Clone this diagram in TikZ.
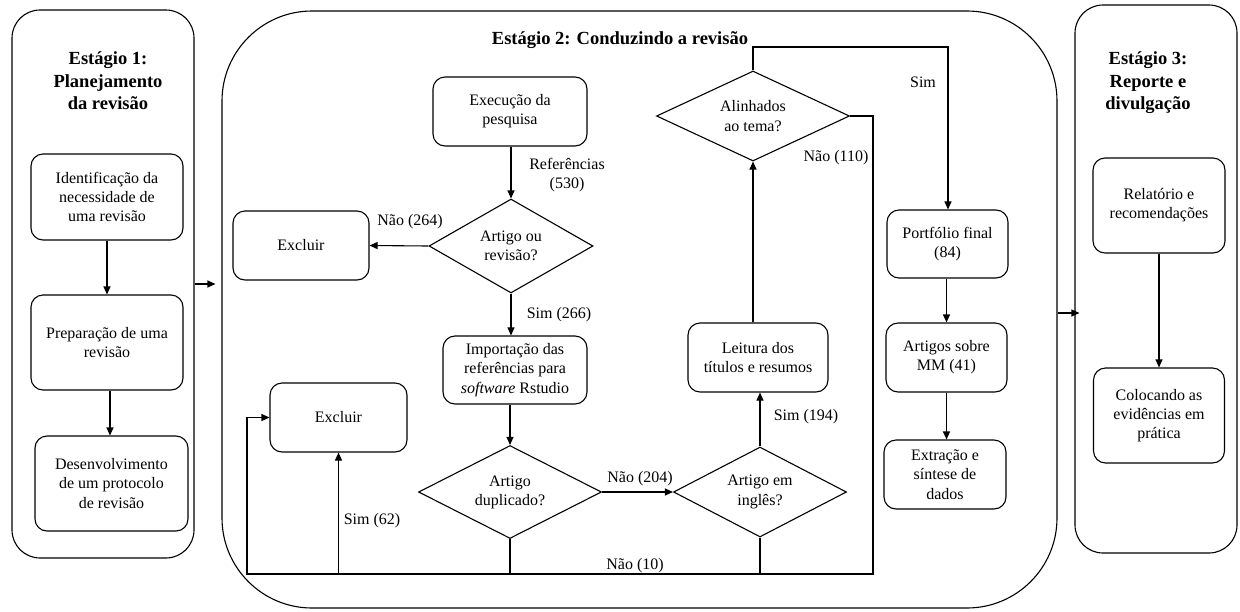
\documentclass[tikz,border=0pt]{standalone}
\usepackage{fontspec}
\setmainfont{Liberation Serif}
\usetikzlibrary{shapes.geometric,arrows.meta}
\newcommand{\myNormal}{\fontsize{16}{19.2}\selectfont}
\newcommand{\myTitle}{\fontsize{18.5}{22.4}\selectfont\bfseries}
\begin{document}
\begin{tikzpicture}[x=1pt,y=-1pt,
  every node/.style={inner sep=0pt},
  stagebox/.style={draw, line width=1.1pt, rectangle},
  box/.style={draw, line width=1.1pt, rounded corners=12pt, align=center, font=\myNormal},
  dec/.style={draw, line width=1.1pt, diamond, aspect=2, align=center, font=\myNormal},
  lab/.style={align=center, font=\myNormal},
  ttl/.style={align=center, font=\myTitle},
  conn/.style={line width=1.1pt},
  arr/.style={conn, -{Triangle[length=8pt,width=7pt]}}]
\useasboundingbox (0,0) rectangle (1240,611);

% stages
\node[stagebox, rounded corners=28pt, minimum width=182pt, minimum height=548pt] (s1) at (103,284) {};
\node[stagebox, rounded corners=90pt, minimum width=835pt, minimum height=597pt] (s2) at (639.5,309.5) {};
\node[stagebox, rounded corners=28pt, minimum width=162pt, minimum height=548pt] (s3) at (1156,279) {};

\node[ttl] (t1) at (108,81) {Estágio 1:\\Planejamento\\da revisão};
\node[ttl] (t2) at (620,40) {Estágio 2: Conduzindo a revisão};
\node[ttl] (t3) at (1148,83) {Estágio 3:\\Reporte e\\divulgação};

% stage 1
\node[box, minimum width=152pt, minimum height=86pt] (b11) at (107,197) {Identificação da\\necessidade de\\uma revisão};
\node[box, minimum width=152pt, minimum height=95pt] (b12) at (107,342.5) {Preparação de uma\\revisão};
\node[box, minimum width=153pt, minimum height=95pt] (b13) at (111.5,483.5) {Desenvolvimento\\de um protocolo\\de revisão};

% stage 2
\node[box, minimum width=154pt, minimum height=69pt] (exe) at (510,111.5) {Execução da\\pesquisa};
\node[dec, minimum width=164pt, minimum height=94pt] (d1) at (511,246) {Artigo ou\\revisão?};
\node[box, minimum width=136pt, minimum height=69pt] (ex1) at (301,245.5) {Excluir};
\node[box, minimum width=144pt, minimum height=68pt] (imp) at (515,370) {Importação das\\referências para\\\textit{software} Rstudio};
\node[dec, minimum width=183pt, minimum height=93pt] (d2) at (510,492) {Artigo\\duplicado?};
\node[dec, minimum width=173pt, minimum height=90pt] (d3) at (760,492) {Artigo em\\inglês?};
\node[box, minimum width=140pt, minimum height=69pt] (lei) at (758,357.5) {Leitura dos\\títulos e resumos};
\node[dec, minimum width=193pt, minimum height=90pt] (d4) at (753,116) {Alinhados\\ao tema?};
\node[box, minimum width=121pt, minimum height=68pt] (pf) at (947.5,244) {Portfólio final\\(84)};
\node[box, minimum width=121pt, minimum height=69pt] (mm) at (946.5,357.5) {Artigos sobre\\MM (41)};
\node[box, minimum width=122pt, minimum height=69pt] (ext) at (945,474.5) {Extração e\\síntese de\\dados};
\node[box, minimum width=137pt, minimum height=69pt] (ex2) at (338.5,417.5) {Excluir};

% stage 3
\node[box, minimum width=132pt, minimum height=95pt] (rel) at (1159,205.5) {Relatório e\\recomendações};
\node[box, minimum width=131pt, minimum height=95pt] (col) at (1159,415.5) {Colocando as\\evidências em\\prática};

% helper coordinates
\coordinate (a1) at (0,284);
\coordinate (a2) at (0,313);
\coordinate (tp) at (948,47);
\coordinate (br) at (873,574);
\coordinate (bl) at (247,574);

% connectors stage 1
\draw[arr] (b11.south) -- (b11.south |- b12.north);
\draw[arr] (b12.south -| 110,0) -- (b13.north -| 110,0);
\draw[arr, shorten >=6pt] (s1.east |- a1) -- (s2.west |- a1);
\draw[arr, shorten >=-5pt] (s2.east |- a2) -- (s3.west |- a2);

% connectors stage 2
\draw[arr] (exe.south -| d1.north) -- (d1.north);
\node[lab] (l530) at (567,175) {Referências\\(530)};
\draw[arr] (d1.west) -- (ex1.east);
\node[lab] (l264) at (410,222) {Não (264)};
\draw[arr] (d1.south) -- (d1.south |- imp.north);
\node[lab] (l266) at (559,315) {Sim (266)};
\draw[arr] (imp.south -| d2.north) -- (d2.north);
\draw[arr] (d2.east) -- (d3.west);
\node[lab] (l204) at (640,479) {Não (204)};
\draw[arr] (d3.north) -- (d3.north |- lei.south);
\node[lab] (l194) at (806,417) {Sim (194)};
\draw[arr] (d4.south |- lei.north) -- (d4.south);
\draw[arr] (d4.north) |- (tp) -- (tp |- pf.north);
\node[lab] (lsim) at (923,82) {Sim};
\draw[arr] (d4.east) -| (br) -- (bl) |- (ex2.west);
\node[lab] (l110) at (836,158) {Não (110)};
\draw[conn] (d2.south) -- (d2.south |- br);
\draw[conn] (d3.south) -- (d3.south |- br);
\draw[arr] (ex2.south |- br) -- (ex2.south);
\node[lab] (l62) at (372,521) {Sim (62)};
\node[lab] (l10) at (635,566) {Não (10)};
\draw[arr] (pf.south -| mm.north) -- (mm.north);
\draw[arr] (mm.south) -- (mm.south |- ext.north);

% stage 3
\draw[arr] (rel.south) -- (rel.south |- col.north);
\end{tikzpicture}
\end{document}
